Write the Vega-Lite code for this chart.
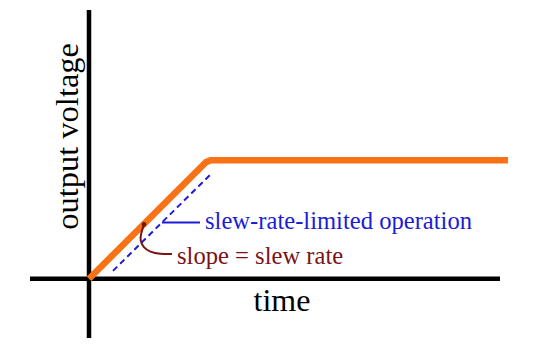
{
  "$schema": "https://vega.github.io/schema/vega-lite/v6.json",
  "autosize": {"type": "fit", "contains": "padding"},
  "width": 540,
  "height": 347,
  "padding": 0,
  "background": "white",
  "config": {"view": {"stroke": null}},
  "datasets": {
    "lines": [
      {"series": "xaxis", "t": -5.9, "v": 0, "k": 0},
      {"series": "xaxis", "t": 41.1, "v": 0, "k": 1},
      {"series": "yaxis", "t": 0, "v": -6.0, "k": 0},
      {"series": "yaxis", "t": 0, "v": 27.2, "k": 1},
      {"series": "output", "t": 0, "v": 0, "k": 0},
      {"series": "output", "t": 11.7, "v": 11.8, "k": 1},
      {"series": "output", "t": 12.2, "v": 12.0, "k": 2},
      {"series": "output", "t": 41.9, "v": 12.0, "k": 3},
      {"series": "limit", "t": 2.4, "v": 0.8, "k": 0},
      {"series": "limit", "t": 12.3, "v": 10.7, "k": 1},
      {"series": "pointer", "t": 7.3, "v": 5.7, "k": 0},
      {"series": "pointer", "t": 11.1, "v": 5.7, "k": 1},
      {"series": "slope", "t": 5.5, "v": 5.5, "k": 0},
      {"series": "slope", "t": 5.2, "v": 4.6, "k": 1},
      {"series": "slope", "t": 5.1, "v": 3.9, "k": 2},
      {"series": "slope", "t": 5.4, "v": 3.2, "k": 3},
      {"series": "slope", "t": 6.1, "v": 2.7, "k": 4},
      {"series": "slope", "t": 7.1, "v": 2.5, "k": 5},
      {"series": "slope", "t": 8.3, "v": 2.5, "k": 6}
    ],
    "labels": [
      {"label": "slew-rate-limited operation", "t": 11.6, "v": 5.7, "kind": "blue"},
      {"label": "slope = slew rate", "t": 8.8, "v": 2.2, "kind": "red"}
    ]
  },
  "layer": [
    {
      "data": {"name": "lines"},
      "transform": [{"filter": "datum.series === 'xaxis' || datum.series === 'yaxis'"}],
      "mark": {"type": "line", "color": "black", "strokeWidth": 4.5, "strokeCap": "butt"},
      "encoding": {
        "x": {"field": "t", "type": "quantitative", "scale": {"domain": [-8.9, 45.1], "nice": false, "zero": false}, "axis": null},
        "y": {"field": "v", "type": "quantitative", "scale": {"domain": [-6.5, 28.2], "nice": false, "zero": false}, "axis": null},
        "detail": {"field": "series"},
        "order": {"field": "k"}
      }
    },
    {
      "data": {"name": "lines"},
      "transform": [{"filter": "datum.series === 'limit'"}],
      "mark": {"type": "line", "color": "#1c1cd6", "strokeWidth": 2, "strokeDash": [6, 4]},
      "encoding": {
        "x": {"field": "t", "type": "quantitative"},
        "y": {"field": "v", "type": "quantitative"},
        "order": {"field": "k"}
      }
    },
    {
      "data": {"name": "lines"},
      "transform": [{"filter": "datum.series === 'output'"}],
      "mark": {"type": "line", "color": "#f97216", "strokeWidth": 6.5, "strokeCap": "butt", "strokeJoin": "round"},
      "encoding": {
        "x": {"field": "t", "type": "quantitative"},
        "y": {"field": "v", "type": "quantitative"},
        "order": {"field": "k"}
      }
    },
    {
      "data": {"name": "lines"},
      "transform": [{"filter": "datum.series === 'pointer'"}],
      "mark": {"type": "line", "color": "#1c1cd6", "strokeWidth": 2},
      "encoding": {
        "x": {"field": "t", "type": "quantitative"},
        "y": {"field": "v", "type": "quantitative"},
        "order": {"field": "k"}
      }
    },
    {
      "data": {"name": "lines"},
      "transform": [{"filter": "datum.series === 'slope'"}],
      "mark": {"type": "line", "color": "#7a1414", "strokeWidth": 2, "interpolate": "basis"},
      "encoding": {
        "x": {"field": "t", "type": "quantitative"},
        "y": {"field": "v", "type": "quantitative"},
        "order": {"field": "k"}
      }
    },
    {
      "data": {"name": "lines"},
      "transform": [{"filter": "datum.series === 'slope' && datum.k === 0"}],
      "mark": {"type": "point", "filled": true, "color": "#7a1414", "size": 22, "opacity": 1},
      "encoding": {
        "x": {"field": "t", "type": "quantitative"},
        "y": {"field": "v", "type": "quantitative"}
      }
    },
    {
      "data": {"name": "labels"},
      "mark": {"type": "text", "align": "left", "baseline": "middle", "font": "Liberation Serif", "fontSize": 24.6},
      "encoding": {
        "x": {"field": "t", "type": "quantitative"},
        "y": {"field": "v", "type": "quantitative"},
        "text": {"field": "label"},
        "color": {"field": "kind", "type": "nominal", "scale": {"domain": ["blue", "red"], "range": ["#1c1cd6", "#7a1414"]}, "legend": null}
      }
    },
    {
      "data": {"values": [{"label": "time", "t": 19.3, "v": -2.3}]},
      "mark": {"type": "text", "align": "center", "baseline": "middle", "font": "Liberation Serif", "fontSize": 32, "color": "black"},
      "encoding": {
        "x": {"field": "t", "type": "quantitative"},
        "y": {"field": "v", "type": "quantitative"},
        "text": {"field": "label"}
      }
    },
    {
      "data": {"values": [{"label": "output voltage", "t": -2.1, "v": 14.4}]},
      "mark": {"type": "text", "align": "center", "baseline": "middle", "angle": 270, "font": "Liberation Serif", "fontSize": 32.5, "color": "black"},
      "encoding": {
        "x": {"field": "t", "type": "quantitative"},
        "y": {"field": "v", "type": "quantitative"},
        "text": {"field": "label"}
      }
    }
  ]
}
